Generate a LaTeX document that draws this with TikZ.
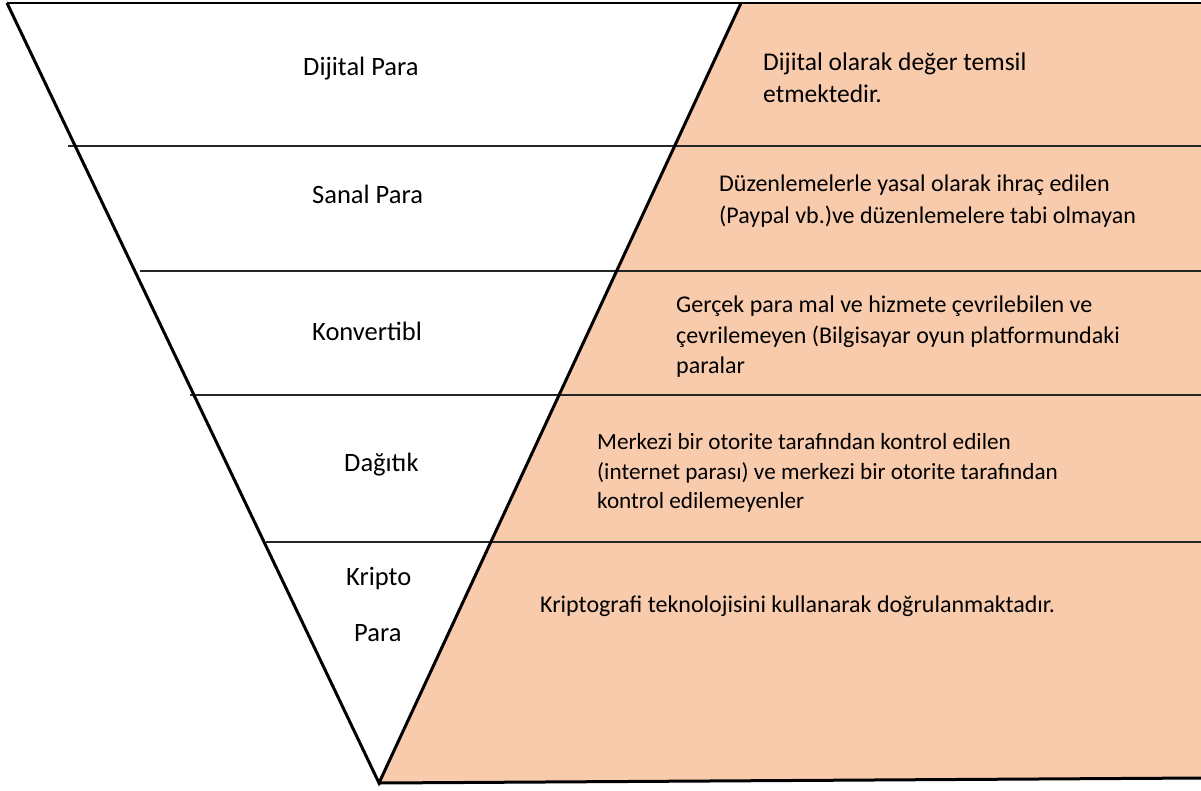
\documentclass[tikz,border=0pt]{standalone}
\usepackage{fontspec}
\setmainfont{Carlito}
\definecolor{peach}{HTML}{F8CBAD}
\begin{document}
\begin{tikzpicture}[x=1pt,y=-1pt,
  lbl/.style={anchor=base west,inner sep=0pt,font=\fontsize{26.5}{32}\selectfont},
  desc/.style={anchor=base west,inner sep=0pt,font=\fontsize{24}{29}\selectfont},
  edge/.style={line width=3pt,line join=miter},
  divider/.style={line width=1.5pt,draw=black!85}]
\useasboundingbox (0,0) rectangle (1201,790);
% key points
\coordinate (tl) at (7,3);
\coordinate (tr) at (1201,3);
\coordinate (ot) at (741,3);
\coordinate (apex) at (379,783);
\coordinate (br) at (1201,778);
% orange band
\fill[peach] (ot) -- (tr) -- (br) -- (apex) -- cycle;
% dividers
\coordinate (d1a) at (68,146);  \coordinate (d1b) at (1201,146);
\coordinate (d2a) at (140,271); \coordinate (d2b) at (1201,271);
\coordinate (d3a) at (190,395); \coordinate (d3b) at (1201,395);
\coordinate (d4a) at (266,542); \coordinate (d4b) at (1201,542);
\draw[divider] (d1a) -- (d1b);
\draw[divider] (d2a) -- (d2b);
\draw[divider] (d3a) -- (d3b);
\draw[divider] (d4a) -- (d4b);
% outlines
\draw[line width=2pt] (tl) -- (tr);
\draw[edge] (tl) -- (apex) -- (ot);
\draw[edge] (apex) -- (br);
% left labels
\node[lbl] (l1) at (303,75) {Dijital Para};
\node[lbl] (l2) at (312,203) {Sanal Para};
\node[lbl] (l3) at (312,340) {Konvertibl};
\node[lbl] (l4) at (344,471) {Dağıtık};
\node[lbl] (l5a) at (346,585) {Kripto};
\node[lbl] (l5b) at (354,641) {Para};
% right texts
\node[desc,font=\fontsize{25.5}{30}\selectfont] (r1a) at (763,70) {Dijital olarak değer temsil};
\node[desc,font=\fontsize{25.5}{30}\selectfont] (r1b) at (763,102) {etmektedir.};
\node[desc] (r2a) at (719,191) {Düzenlemelerle yasal olarak ihraç edilen};
\node[desc] (r2b) at (719,223) {(Paypal vb.)ve düzenlemelere tabi olmayan};
\node[desc] (r3a) at (676,312) {Gerçek para mal ve hizmete çevrilebilen ve};
\node[desc] (r3b) at (676,343) {çevrilemeyen (Bilgisayar oyun platformundaki};
\node[desc] (r3c) at (676,373) {paralar};
\node[desc,font=\fontsize{23.2}{28}\selectfont] (r4a) at (597,449) {Merkezi bir otorite tarafından kontrol edilen};
\node[desc,font=\fontsize{23.2}{28}\selectfont] (r4b) at (597,479) {(internet parası) ve merkezi bir otorite tarafından};
\node[desc,font=\fontsize{23.2}{28}\selectfont] (r4c) at (597,508) {kontrol edilemeyenler};
\node[desc] (r5) at (540,612) {Kriptografi teknolojisini kullanarak doğrulanmaktadır.};
\end{tikzpicture}
\end{document}
